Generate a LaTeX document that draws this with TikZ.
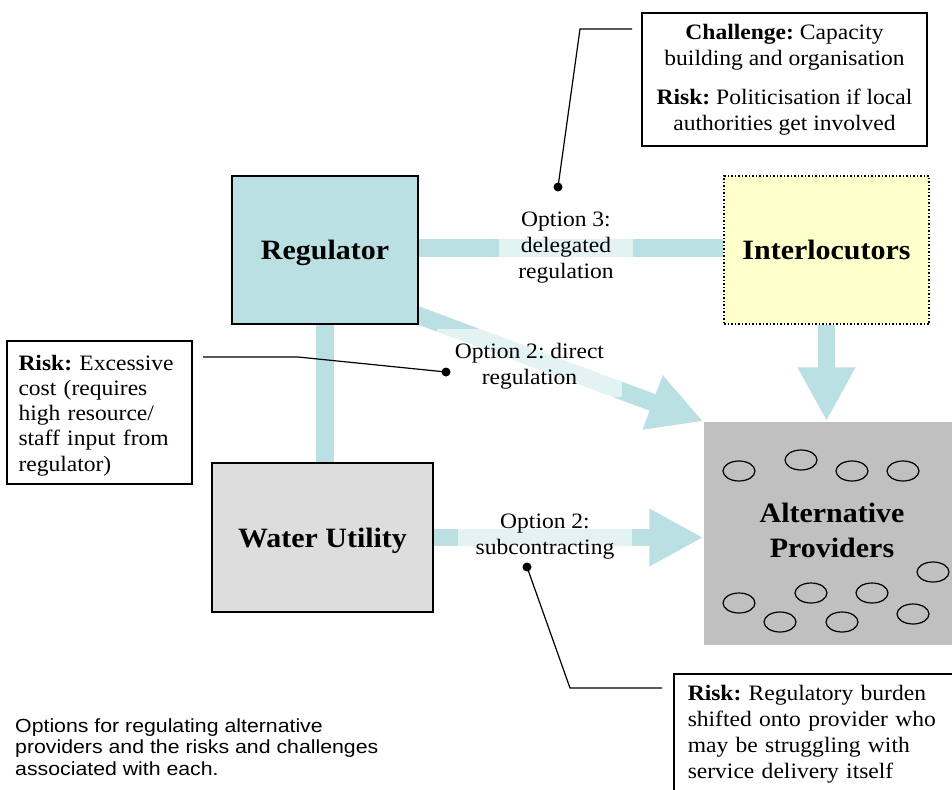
\documentclass[tikz,border=0pt]{standalone}
\usepackage{fontspec}
\setmainfont{Liberation Serif}[FakeStretch=1.07]
\newfontfamily\capfamily{Liberation Sans}[FakeStretch=1.12]
\usetikzlibrary{arrows.meta,shapes.geometric,calc}
\newcommand{\bodyf}{\fontsize{22}{26}\selectfont\frenchspacing\hyphenpenalty=10000 }
\newcommand{\headf}{\fontsize{28}{35}\selectfont\bfseries}
\newcommand{\capf}{\capfamily\fontsize{19}{21.5}\selectfont}
\definecolor{tealc}{RGB}{186,224,227}
\definecolor{intc}{RGB}{255,255,204}
\definecolor{apc}{RGB}{192,192,192}
\definecolor{wuc}{RGB}{221,221,221}
\tikzset{
  box/.style={draw, line width=1.5pt, inner sep=0pt, align=center, font=\headf, text depth=0pt},
  tbar/.style={draw=tealc, line width=17.5pt},
  bigtip/.style={-{Triangle[length=54pt,width=54pt]}},
  lbl/.style={fill=white, fill opacity=0.6, text opacity=1, inner sep=0pt, align=center, font=\bodyf},
  note/.style={draw, line width=1.5pt, font=\bodyf},
  dot/.style={circle, fill=black, inner sep=0pt, minimum size=9pt},
  callout/.style={draw, line width=1.2pt},
  oval/.style={ellipse, draw, line width=1.2pt, minimum width=32pt, minimum height=20pt, inner sep=0pt}
}
\begin{document}
\begin{tikzpicture}[x=1pt,y=-1pt]
\useasboundingbox (0,0) rectangle (952,789);
% boxes (positions)
\path
  node[box, fill=tealc, minimum width=186pt, minimum height=148pt] (reg) at (325,250) {Regulator}
  node[box, dotted, fill=intc, minimum width=205pt, minimum height=148pt] (int) at (826.5,250) {Interlocutors}
  node[box, draw=none, fill=apc, minimum width=248pt, minimum height=223pt] (ap) at (828,533.5) {}
  node[box, fill=wuc, minimum width=221pt, minimum height=149pt] (wu) at (322.5,537.5) {Water Utility};
% bars and arrows
\draw[tbar] (reg.south) -- (reg.south |- wu.north);
\draw[tbar] ([yshift=2pt]reg.east) -- ([yshift=2pt]int.west);
\path (reg.south east) ++(-18.7,-16.1) coordinate (dstart);
\draw[tbar, bigtip, fill=tealc] (dstart) -- (ap.north west);
\draw[tbar, bigtip, fill=tealc] (wu.east) -- (wu.east -| ap.west);
\draw[tbar, bigtip, fill=tealc] (int.south) -- (int.south |- ap.north);
% redraw boxes on top
\node[box, fill=tealc, minimum width=186pt, minimum height=148pt] at (reg) {Regulator};
\node[box, dotted, fill=intc, minimum width=205pt, minimum height=148pt] at (int) {Interlocutors};
\node[box, draw=none, fill=apc, minimum width=248pt, minimum height=223pt] at (ap) {};
\node[box, fill=wuc, minimum width=221pt, minimum height=149pt] at (wu) {Water Utility};
\node[font=\headf, align=center] (aptext) at (832,530.5) {Alternative\\Providers};
% option labels
\node[lbl, minimum width=134pt, minimum height=80pt] (opt3) at (566,248) {Option 3:\\delegated\\regulation};
\node[lbl, minimum width=185pt, minimum height=68pt] (opt2d) at (529.5,363) {\rule{0pt}{21pt}Option 2: direct\\regulation};
\node[lbl, minimum width=174pt, minimum height=56pt] (opt2s) at (545,537) {Option 2:\\subcontracting};
% ellipses
\foreach \n/\x/\y in {o1/739/471, o2/801/460, o3/852/471, o4/903/471, o5/933/572, o6/811/593, o7/872/593, o8/739/603, o9/913/614, o10/780/622, o11/842/622}
  \node[oval] (\n) at (\x,\y) {};
% notes
\node[note, minimum width=285pt, minimum height=133pt, inner sep=0pt, align=center] (chal) at (784.5,79.5)
  {\textbf{Challenge:} Capacity\\building and organisation\\[13pt]\textbf{Risk:} Politicisation if local\\authorities get involved};
\node[note, minimum width=185pt, minimum height=143pt, text width=162pt, inner xsep=11.5pt, inner ysep=0pt, align=left] (riskl) at (99.5,412.5)
  {\rule{0pt}{21pt}\textbf{Risk:} Excessive\\[-0.8pt]cost (requires\\[-0.8pt]high resource/\\[-0.8pt]staff input from\\[-0.8pt]regulator)};
\node[note, anchor=north west, text width=285pt, inner xsep=14pt, inner ysep=11pt, align=left] (riskb) at (673,673)
  {\textbf{Risk:} Regulatory burden\\shifted onto provider who\\may be struggling with\\service delivery itself\rule[-30pt]{0pt}{30pt}};
% callouts
\node[dot] (d3) at (558,187) {};
\node[dot] (d2) at (446,372) {};
\node[dot] (ds) at (527,567) {};
\coordinate (c3a) at (580,29);
\coordinate (c3b) at (632,29);
\coordinate (c2a) at (298,357);
\coordinate (c2b) at (203,357);
\coordinate (csa) at (570,688);
\coordinate (csb) at (662,688);
\draw[callout] (d3.center) -- (c3a) -- (c3b);
\draw[callout] (d2.center) -- (c2a) -- (c2b);
\draw[callout] (ds.center) -- (csa) -- (csb);
% caption
\node[font=\capf, align=left, anchor=west, inner sep=0pt] (cap) at (15,747)
  {Options for regulating alternative\\providers and the risks and challenges\\associated with each.};
\end{tikzpicture}
\end{document}
